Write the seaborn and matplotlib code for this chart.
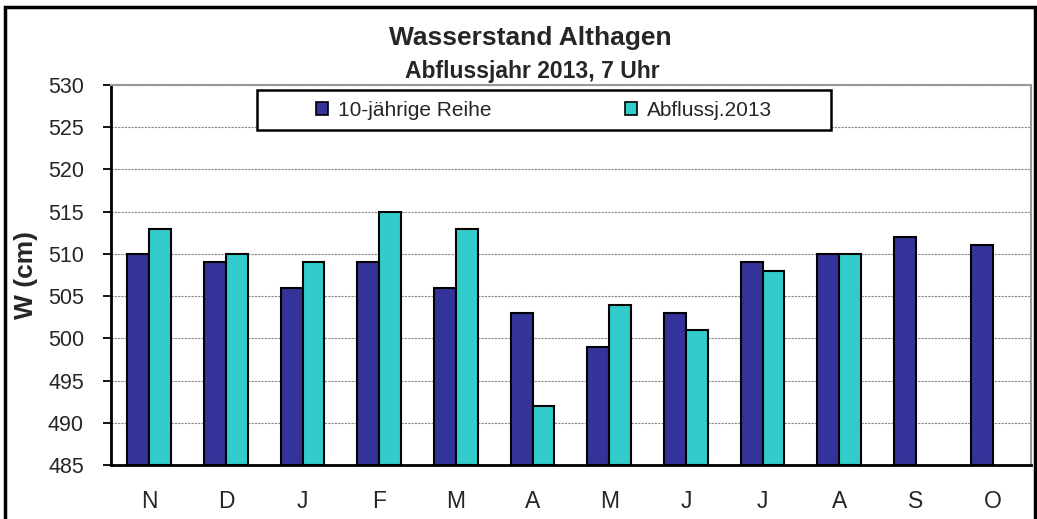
import numpy as np
import pandas as pd
import matplotlib
matplotlib.use("Agg")
import matplotlib.pyplot as plt
import seaborn as sns
from matplotlib.patches import Rectangle

months = ["N", "D", "J", "F", "M", "A", "M", "J", "J", "A", "S", "O"]
series_names = ["10-jährige Reihe", "Abflussj.2013"]
reihe = [510, 509, 506, 509, 506, 503, 499, 503, 509, 510, 512, 511]
abfluss = [513, 510, 509, 515, 513, 492, 504, 501, 508, 510, np.nan, np.nan]
yticks = [485, 490, 495, 500, 505, 510, 515, 520, 525, 530]

rows = []
for i, m in enumerate(months):
    rows.append({"pos": i, "serie": series_names[0], "W": reihe[i]})
    if not np.isnan(abfluss[i]):
        rows.append({"pos": i, "serie": series_names[1], "W": abfluss[i]})
df = pd.DataFrame(rows)

sns.set_style("white")
plt.rcParams["font.family"] = ["Liberation Sans", "DejaVu Sans"]

fig = plt.figure(figsize=(10.37, 5.19), dpi=100)
ax = fig.add_axes([0.1070, 0.1040, 0.8872, 0.7322])

sns.barplot(data=df, x="pos", y="W", hue="serie", hue_order=series_names,
            palette=["#333399", "#33CCCC"], saturation=1, width=0.57,
            edgecolor="black", linewidth=1.5, ax=ax, order=list(range(12)),
            errorbar=None)
# bars start from the bottom of the value axis
for p in ax.patches:
    h = p.get_height()
    if np.isfinite(h) and h > 0:
        p.set_y(485)
        p.set_height(h - 485)

ax.set_ylim(485, 530)
ax.set_xlim(-0.5, 11.5)
ax.set_yticks(yticks)
ax.set_yticklabels([str(t) for t in yticks], fontsize=15.5)
ax.set_xticks(range(12))
ax.set_xticklabels(months, fontsize=16.5)
ax.set_xticks(np.arange(-0.5, 12, 1), minor=True)
ax.tick_params(axis="x", which="major", length=0, pad=18)
ax.tick_params(axis="x", which="minor", length=6.5, width=1.3, color="black", direction="out")
ax.tick_params(axis="y", length=5.5, width=1.3, color="black", direction="out", left=True, pad=14)
ax.set_xlabel("")
ax.set_ylabel("W (cm)", fontsize=19, fontweight="bold")
ax.yaxis.set_label_coords(-0.079, 0.5)
ax.yaxis.grid(True, color="#888888", linestyle=(0, (2, 1)), linewidth=0.8)
ax.set_axisbelow(True)
for s in ["left", "bottom"]:
    ax.spines[s].set_color("black")
    ax.spines[s].set_linewidth(2)
ax.spines["right"].set_color("#999999")
ax.spines["right"].set_linewidth(1.5)
ax.spines["top"].set_color("#999999")
ax.spines["top"].set_linewidth(1.5)

# legend box
ax.add_patch(Rectangle((0.1587, 0.8816), 0.624, 0.105, transform=ax.transAxes,
                       facecolor="white", edgecolor="black", linewidth=1.8, zorder=5))
leg = ax.legend(loc="center", bbox_to_anchor=(0.4707, 0.934), ncol=2, fontsize=15,
                frameon=False, handlelength=0.58, handleheight=0.58, handletextpad=0.5,
                columnspacing=6.4, borderpad=0, borderaxespad=0)
leg.set_zorder(6)
for h in leg.legend_handles:
    h.set_linewidth(1.2)

fig.text(0.511, 1 - 37.5 / 519, "Wasserstand Althagen", ha="center", va="center",
         fontsize=19, fontweight="bold")
fig.text(0.513, 1 - 72 / 519, "Abflussjahr 2013, 7 Uhr", ha="center", va="center",
         fontsize=16.5, fontweight="bold")

fig.patches.append(Rectangle((0.005, -0.1), 0.993, 1.0865, transform=fig.transFigure,
                             fill=False, edgecolor="black", linewidth=2.5, figure=fig))

fig.savefig("out.png", dpi=100)
